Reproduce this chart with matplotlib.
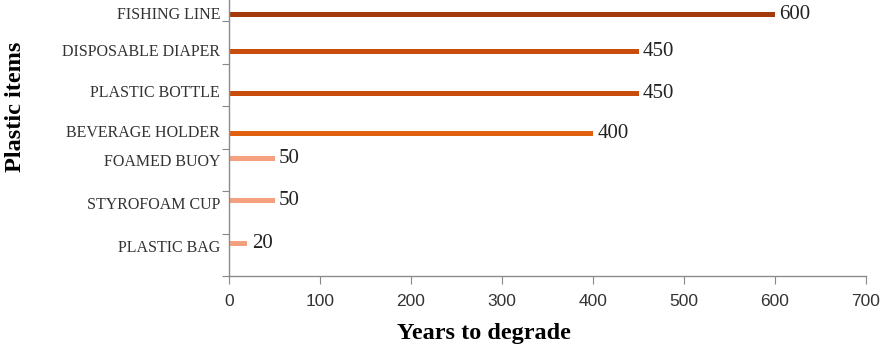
import matplotlib
matplotlib.use("Agg")
import matplotlib.pyplot as plt
import numpy as np

# Data
items = ["PLASTIC BAG", "STYROFOAM CUP", "FOAMED BUOY", "BEVERAGE HOLDER",
         "PLASTIC BOTTLE", "DISPOSABLE DIAPER", "FISHING LINE"]
years = [20, 50, 50, 400, 450, 450, 600]
group = ["short", "short", "short", "long", "longer", "longer", "longest"]

# Style per group: colour and vertical offset inside each category band
group_color = {"short": "#F5A07E", "long": "#E0600F",
               "longer": "#C84D0C", "longest": "#A33A0A"}
group_offset = {"short": 0.27, "long": -0.14, "longer": -0.22, "longest": -0.35}
item_offset = {"PLASTIC BOTTLE": -0.20, "PLASTIC BAG": 0.26}
label_shift = {"short": -0.09, "long": 0.0, "longer": 0.0, "longest": 0.0}

W, H = 891, 351
fig = plt.figure(figsize=(W / 100, H / 100), dpi=100)
ax_left, ax_right = 229 / W, 866 / W
ax_bottom = (H - 276) / H
ax_top = (H + 21.5) / H
ax = fig.add_axes([ax_left, ax_bottom, ax_right - ax_left, ax_top - ax_bottom])

serif = ["Liberation Serif", "DejaVu Serif"]
pos = np.arange(len(items))
for i, (name, v, g) in enumerate(zip(items, years, group)):
    y = pos[i] + item_offset.get(name, group_offset[g])
    ax.barh(y, v, height=0.11, color=group_color[g], edgecolor="none")
    ax.text(v + 5, y, str(v), va="center", ha="left", fontsize=15,
            family=serif, color="#222222")
    ax.text(-0.014, y + label_shift[g], name, transform=ax.get_yaxis_transform(),
            va="center", ha="right", fontsize=11.5, family=serif, color="#333333")

ax.set_xlim(0, 700)
ax.set_ylim(-0.5, len(items) - 0.5)
ax.set_xticks(np.arange(0, 701, 100))
ax.set_xticklabels([str(t) for t in range(0, 701, 100)],
                   fontsize=12.5, family=["Liberation Sans"], color="#333333")

# ticks on the category band boundaries
ax.set_yticks(np.arange(-0.5, len(items) - 0.4, 1.0))
ax.set_yticklabels([])
ax.tick_params(axis="y", length=5, color="#888888", direction="out")
ax.tick_params(axis="x", length=6, color="#888888", direction="out", pad=7)

for s in ["top", "right"]:
    ax.spines[s].set_visible(False)
for s in ["left", "bottom"]:
    ax.spines[s].set_color("#8c8c8c")
    ax.spines[s].set_linewidth(1.0)

fig.text(484 / W, 1 - 334 / H, "Years to degrade", ha="center",
         va="center", fontsize=17.5, fontweight="bold", family=serif)
fig.text(16 / W, 1 - 107 / H, "Plastic items", ha="center", va="center",
         rotation=90, fontsize=17.5, fontweight="bold", family=serif)

fig.savefig("out.png", dpi=100)
